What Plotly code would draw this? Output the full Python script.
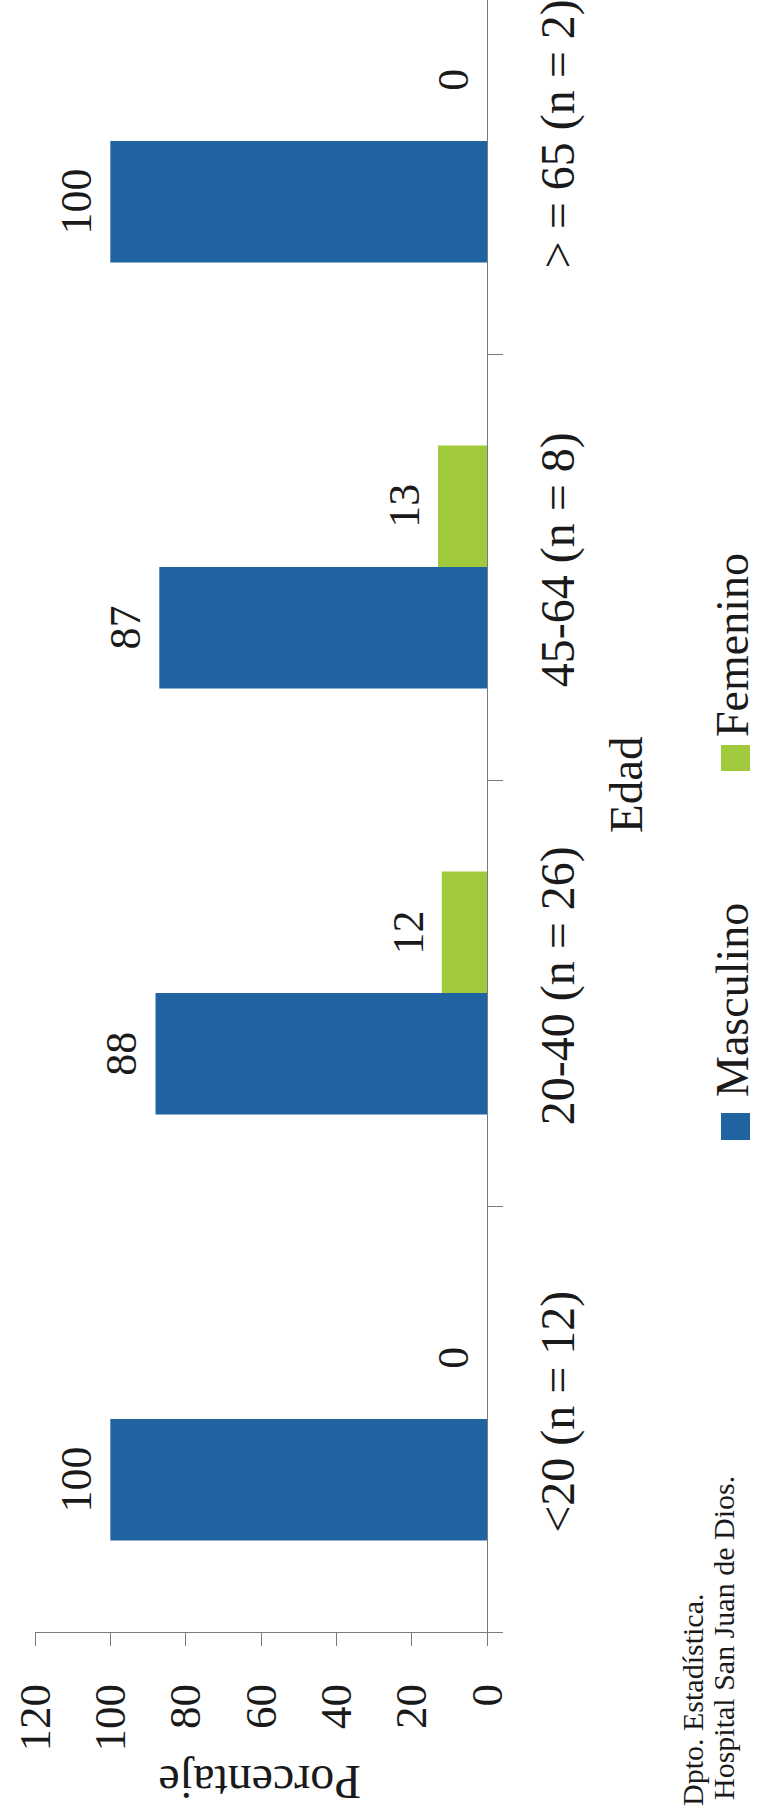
import plotly.graph_objects as go

# Age groups (bottom to top) and share of each sex, in percent
categorias = ["<20 (n = 12)", "20-40 (n = 26)", "45-64 (n = 8)", ">= 65 (n = 2)"]
etiquetas = ["<20 (n = 12)", "20-40 (n = 26)", "45-64 (n = 8)", "> = 65 (n = 2)"]
masculino = [100, 88, 87, 100]
femenino = [0, 12, 13, 0]
ticks_valor = [0, 20, 40, 60, 80, 100, 120]

AZUL = "#1f63a0"
VERDE = "#a1c93c"
TEXTO = "#1a1a1a"
EJE = "#7a7a7a"
FUENTE = "Liberation Serif"

W, H = 760, 1813
X0, X1 = 35, 487          # plot area, horizontal pixels
YB = 1632                 # plot area bottom pixel (top edge at 0)
BARGAP = 0.43


def px(x):
    return (x - X0) / (X1 - X0)


def py(y):
    return (YB - y) / YB


fig = go.Figure()
series = [("Masculino", masculino, AZUL), ("Femenino", femenino, VERDE)]
for nombre, valores, color in series:
    fig.add_trace(go.Bar(
        name=nombre, y=categorias, x=valores, orientation="h",
        marker=dict(color=color, line=dict(width=0)),
        showlegend=False, hoverinfo="x+y+name",
    ))

# Value labels at the end of each bar (two bars per group, side by side)
ancho = (1 - BARGAP) / len(series)
for k, (nombre, valores, color) in enumerate(series):
    desplazamiento = (k - (len(series) - 1) / 2) * ancho
    for i, v in enumerate(valores):
        fig.add_annotation(
            x=v, y=i + desplazamiento, xref="x", yref="y",
            text=str(v), showarrow=False, textangle=-90,
            xanchor="right", yanchor="middle", xshift=-7,
            font=dict(family=FUENTE, size=44, color=TEXTO),
        )

fig.update_layout(
    width=W, height=H,
    margin=dict(l=X0, r=W - X1, t=0, b=H - YB),
    paper_bgcolor="white", plot_bgcolor="white",
    barmode="group", bargap=BARGAP, bargroupgap=0,
    font=dict(family=FUENTE, color=TEXTO),
)

fig.update_xaxes(
    range=[120, 0], tickvals=ticks_valor, ticktext=[str(t) for t in ticks_valor],
    tickangle=-90, tickfont=dict(family=FUENTE, size=45, color=TEXTO),
    ticks="outside", ticklen=13, tickcolor=EJE, tickwidth=1,
    ticklabelstandoff=20,
    showline=True, linecolor=EJE, linewidth=1,
    showgrid=False, zeroline=False,
)
fig.update_yaxes(
    type="category", categoryorder="array", categoryarray=categorias,
    tickvals=categorias, ticktext=etiquetas,
    range=[-0.5, 3.331], side="right",
    tickangle=-90, tickfont=dict(family=FUENTE, size=48, color=TEXTO),
    ticks="outside", ticklen=15, tickcolor=EJE, tickwidth=1,
    tickson="boundaries", ticklabelstandoff=28,
    showline=True, linecolor=EJE, linewidth=1,
    showgrid=False, zeroline=False,
)

anotaciones = [
    dict(text="Porcentaje", x=px(260), y=py(1782), textangle=180, size=48),
    dict(text="Edad", x=px(626), y=py(785), textangle=-90, size=47),
    dict(text="Masculino", x=px(732), y=py(1000), textangle=-90, size=46),
    dict(text="Femenino", x=px(732), y=py(645), textangle=-90, size=46),
    dict(text="Dpto. Estadística.", x=px(692), y=py(1700), textangle=-90, size=30),
    dict(text="Hospital San Juan de Dios.", x=px(723), y=py(1638), textangle=-90, size=30),
]
for a in anotaciones:
    fig.add_annotation(
        text=a["text"], x=a["x"], y=a["y"], xref="paper", yref="paper",
        xanchor="center", yanchor="middle", showarrow=False,
        textangle=a["textangle"], font=dict(family=FUENTE, size=a["size"], color=TEXTO),
    )

# Legend keys drawn as rotated swatches
for color, (ya, yb) in [(AZUL, (1113, 1140)), (VERDE, (745, 771))]:
    fig.add_shape(
        type="rect", xref="paper", yref="paper",
        x0=px(721), x1=px(750), y0=py(yb), y1=py(ya),
        fillcolor=color, line=dict(width=0),
    )

fig.write_html("out.html")
